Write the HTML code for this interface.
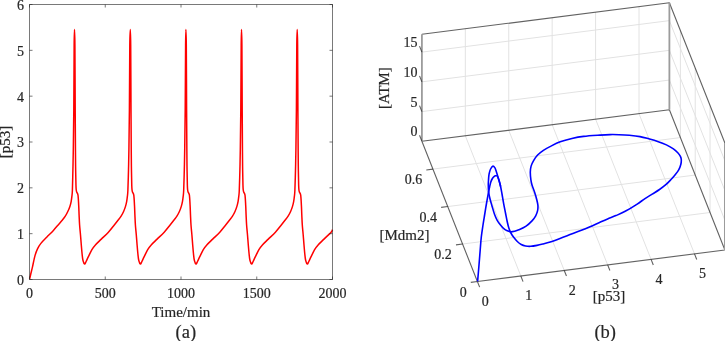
<!DOCTYPE html>
<html><head><meta charset="utf-8"><style>
html,body{margin:0;padding:0;background:#fff;}
body{width:725px;height:341px;overflow:hidden;}
svg{display:block;will-change:transform;}
text{font-family:"Liberation Serif",serif;font-size:15px;stroke:#262626;stroke-width:0.2px;}
.t{font-size:14px;}
</style></head><body>
<svg width="725" height="341" viewBox="0 0 725 341">
<path d="M29.60 279.20 C29.83 278.17 30.52 275.07 31.00 273.00 C31.48 270.93 31.83 269.70 32.50 266.80 C33.17 263.90 34.17 258.60 35.00 255.60 C35.83 252.60 36.52 250.83 37.50 248.80 C38.48 246.77 39.37 245.32 40.90 243.40 C42.43 241.48 44.62 239.47 46.70 237.30 C48.78 235.13 51.42 232.55 53.40 230.40 C55.38 228.25 57.13 226.08 58.60 224.40 C60.07 222.72 61.08 221.67 62.20 220.30 C63.32 218.93 64.37 217.67 65.30 216.20 C66.23 214.73 67.03 213.13 67.80 211.50 C68.57 209.87 69.33 208.10 69.90 206.40 C70.47 204.70 70.87 203.00 71.20 201.30 C71.53 199.60 71.70 198.08 71.90 196.20 C72.10 194.32 72.23 194.37 72.40 190.00 C72.57 185.63 72.75 176.67 72.90 170.00 C73.05 163.33 73.15 160.00 73.30 150.00 C73.45 140.00 73.66 127.50 73.80 110.00 C73.94 92.50 74.03 58.40 74.15 45.00 C74.27 31.60 74.38 29.60 74.50 29.60 C74.62 29.60 74.78 31.60 74.90 45.00 C75.02 58.40 75.11 92.50 75.20 110.00 C75.29 127.50 75.38 140.00 75.45 150.00 C75.53 160.00 75.57 164.17 75.65 170.00 C75.73 175.83 75.85 181.67 75.95 185.00 C76.05 188.33 76.12 188.83 76.25 190.00 C76.38 191.17 76.41 191.15 76.70 192.00 C76.99 192.85 77.67 192.87 78.00 195.10 C78.33 197.33 78.52 202.08 78.70 205.40 C78.88 208.72 78.95 211.73 79.10 215.00 C79.25 218.27 79.37 221.67 79.60 225.00 C79.83 228.33 80.22 231.67 80.50 235.00 C80.78 238.33 81.03 241.83 81.30 245.00 C81.57 248.17 81.82 251.42 82.10 254.00 C82.38 256.58 82.58 258.83 83.00 260.50 C83.42 262.17 84.08 263.83 84.60 264.00 C85.12 264.17 85.47 262.72 86.10 261.50 C86.73 260.28 87.43 258.68 88.40 256.70 C89.37 254.72 90.73 251.57 91.90 249.60 C93.07 247.63 93.83 246.65 95.40 244.90 C96.97 243.15 99.13 241.22 101.30 239.10 C103.47 236.98 106.23 234.55 108.40 232.20 C110.57 229.85 112.70 226.98 114.30 225.00 C115.90 223.02 116.87 221.77 118.00 220.30 C119.13 218.83 120.17 217.67 121.10 216.20 C122.03 214.73 122.87 213.13 123.60 211.50 C124.33 209.87 124.98 208.10 125.50 206.40 C126.02 204.70 126.38 203.00 126.70 201.30 C127.02 199.60 127.20 198.08 127.40 196.20 C127.60 194.32 127.72 194.37 127.90 190.00 C128.08 185.63 128.33 176.67 128.50 170.00 C128.67 163.33 128.75 160.00 128.90 150.00 C129.05 140.00 129.25 127.50 129.40 110.00 C129.55 92.50 129.65 58.40 129.80 45.00 C129.95 31.60 130.15 29.60 130.30 29.60 C130.45 29.60 130.58 31.60 130.70 45.00 C130.82 58.40 130.91 92.50 131.00 110.00 C131.09 127.50 131.18 140.00 131.25 150.00 C131.32 160.00 131.37 164.17 131.45 170.00 C131.53 175.83 131.65 181.67 131.75 185.00 C131.85 188.33 131.93 188.83 132.05 190.00 C132.18 191.17 132.21 191.15 132.50 192.00 C132.79 192.85 133.47 192.87 133.80 195.10 C134.13 197.33 134.32 202.08 134.50 205.40 C134.68 208.72 134.75 211.73 134.90 215.00 C135.05 218.27 135.17 221.67 135.40 225.00 C135.63 228.33 136.02 231.67 136.30 235.00 C136.58 238.33 136.83 241.83 137.10 245.00 C137.37 248.17 137.62 251.42 137.90 254.00 C138.18 256.58 138.38 258.83 138.80 260.50 C139.22 262.17 139.88 263.83 140.40 264.00 C140.92 264.17 141.27 262.72 141.90 261.50 C142.53 260.28 143.23 258.68 144.20 256.70 C145.17 254.72 146.53 251.57 147.70 249.60 C148.87 247.63 149.63 246.65 151.20 244.90 C152.77 243.15 154.93 241.22 157.10 239.10 C159.27 236.98 162.03 234.55 164.20 232.20 C166.37 229.85 168.50 226.98 170.10 225.00 C171.70 223.02 172.67 221.77 173.80 220.30 C174.93 218.83 175.97 217.67 176.90 216.20 C177.83 214.73 178.67 213.13 179.40 211.50 C180.13 209.87 180.78 208.10 181.30 206.40 C181.82 204.70 182.18 203.00 182.50 201.30 C182.82 199.60 183.00 198.08 183.20 196.20 C183.40 194.32 183.52 194.37 183.70 190.00 C183.88 185.63 184.13 176.67 184.30 170.00 C184.47 163.33 184.55 160.00 184.70 150.00 C184.85 140.00 185.05 127.50 185.20 110.00 C185.35 92.50 185.48 58.40 185.60 45.00 C185.72 31.60 185.78 29.60 185.90 29.60 C186.02 29.60 186.18 31.60 186.30 45.00 C186.42 58.40 186.51 92.50 186.60 110.00 C186.69 127.50 186.77 140.00 186.85 150.00 C186.93 160.00 186.97 164.17 187.05 170.00 C187.13 175.83 187.25 181.67 187.35 185.00 C187.45 188.33 187.53 188.83 187.65 190.00 C187.78 191.17 187.81 191.15 188.10 192.00 C188.39 192.85 189.07 192.87 189.40 195.10 C189.73 197.33 189.92 202.08 190.10 205.40 C190.28 208.72 190.35 211.73 190.50 215.00 C190.65 218.27 190.77 221.67 191.00 225.00 C191.23 228.33 191.62 231.67 191.90 235.00 C192.18 238.33 192.43 241.83 192.70 245.00 C192.97 248.17 193.22 251.42 193.50 254.00 C193.78 256.58 193.98 258.83 194.40 260.50 C194.82 262.17 195.48 263.83 196.00 264.00 C196.52 264.17 196.87 262.72 197.50 261.50 C198.13 260.28 198.83 258.68 199.80 256.70 C200.77 254.72 202.13 251.57 203.30 249.60 C204.47 247.63 205.23 246.65 206.80 244.90 C208.37 243.15 210.53 241.22 212.70 239.10 C214.87 236.98 217.63 234.55 219.80 232.20 C221.97 229.85 224.10 226.98 225.70 225.00 C227.30 223.02 228.27 221.77 229.40 220.30 C230.53 218.83 231.57 217.67 232.50 216.20 C233.43 214.73 234.27 213.13 235.00 211.50 C235.73 209.87 236.38 208.10 236.90 206.40 C237.42 204.70 237.78 203.00 238.10 201.30 C238.42 199.60 238.60 198.08 238.80 196.20 C239.00 194.32 239.12 194.37 239.30 190.00 C239.48 185.63 239.73 176.67 239.90 170.00 C240.07 163.33 240.15 160.00 240.30 150.00 C240.45 140.00 240.65 127.50 240.80 110.00 C240.95 92.50 241.08 58.40 241.20 45.00 C241.32 31.60 241.38 29.60 241.50 29.60 C241.62 29.60 241.78 31.60 241.90 45.00 C242.02 58.40 242.11 92.50 242.20 110.00 C242.29 127.50 242.38 140.00 242.45 150.00 C242.52 160.00 242.57 164.17 242.65 170.00 C242.73 175.83 242.85 181.67 242.95 185.00 C243.05 188.33 243.12 188.83 243.25 190.00 C243.38 191.17 243.41 191.15 243.70 192.00 C243.99 192.85 244.67 192.87 245.00 195.10 C245.33 197.33 245.52 202.08 245.70 205.40 C245.88 208.72 245.95 211.73 246.10 215.00 C246.25 218.27 246.37 221.67 246.60 225.00 C246.83 228.33 247.22 231.67 247.50 235.00 C247.78 238.33 248.03 241.83 248.30 245.00 C248.57 248.17 248.82 251.42 249.10 254.00 C249.38 256.58 249.58 258.83 250.00 260.50 C250.42 262.17 251.08 263.83 251.60 264.00 C252.12 264.17 252.47 262.72 253.10 261.50 C253.73 260.28 254.43 258.68 255.40 256.70 C256.37 254.72 257.73 251.57 258.90 249.60 C260.07 247.63 260.83 246.65 262.40 244.90 C263.97 243.15 266.13 241.22 268.30 239.10 C270.47 236.98 273.23 234.55 275.40 232.20 C277.57 229.85 279.70 226.98 281.30 225.00 C282.90 223.02 283.87 221.77 285.00 220.30 C286.13 218.83 287.17 217.67 288.10 216.20 C289.03 214.73 289.87 213.13 290.60 211.50 C291.33 209.87 291.98 208.10 292.50 206.40 C293.02 204.70 293.38 203.00 293.70 201.30 C294.02 199.60 294.20 198.08 294.40 196.20 C294.60 194.32 294.72 194.37 294.90 190.00 C295.08 185.63 295.33 176.67 295.50 170.00 C295.67 163.33 295.75 160.00 295.90 150.00 C296.05 140.00 296.25 127.50 296.40 110.00 C296.55 92.50 296.67 58.40 296.80 45.00 C296.93 31.60 297.07 29.60 297.20 29.60 C297.33 29.60 297.48 31.60 297.60 45.00 C297.72 58.40 297.81 92.50 297.90 110.00 C297.99 127.50 298.07 140.00 298.15 150.00 C298.22 160.00 298.27 164.17 298.35 170.00 C298.43 175.83 298.55 181.67 298.65 185.00 C298.75 188.33 298.82 188.83 298.95 190.00 C299.07 191.17 299.11 191.15 299.40 192.00 C299.69 192.85 300.37 192.87 300.70 195.10 C301.03 197.33 301.22 202.08 301.40 205.40 C301.58 208.72 301.65 211.73 301.80 215.00 C301.95 218.27 302.07 221.67 302.30 225.00 C302.53 228.33 302.92 231.67 303.20 235.00 C303.48 238.33 303.73 241.83 304.00 245.00 C304.27 248.17 304.52 251.42 304.80 254.00 C305.08 256.58 305.28 258.83 305.70 260.50 C306.12 262.17 306.78 263.83 307.30 264.00 C307.82 264.17 308.17 262.72 308.80 261.50 C309.43 260.28 310.13 258.68 311.10 256.70 C312.07 254.72 313.43 251.57 314.60 249.60 C315.77 247.63 316.53 246.65 318.10 244.90 C319.67 243.15 321.83 241.22 324.00 239.10 C326.17 236.98 329.68 233.78 331.10 232.20 C332.52 230.62 332.27 230.03 332.50 229.60" fill="none" stroke="#ff0000" stroke-width="1.5" stroke-linejoin="round"/>
<rect x="29.5" y="4.5" width="303.0" height="275.0" fill="none" stroke="#262626" stroke-width="1" opacity="0.62"/>
<path d="M29.50 279.50V276.50M29.50 4.50V7.50M105.25 279.50V276.50M105.25 4.50V7.50M181.00 279.50V276.50M181.00 4.50V7.50M256.75 279.50V276.50M256.75 4.50V7.50M332.50 279.50V276.50M332.50 4.50V7.50M29.50 279.50H32.50M332.50 279.50H329.50M29.50 233.67H32.50M332.50 233.67H329.50M29.50 187.83H32.50M332.50 187.83H329.50M29.50 142.00H32.50M332.50 142.00H329.50M29.50 96.17H32.50M332.50 96.17H329.50M29.50 50.33H32.50M332.50 50.33H329.50M29.50 4.50H32.50M332.50 4.50H329.50" stroke="#262626" stroke-width="1" opacity="0.62"/>
<g fill="#262626"><text class="t" x="29.50" y="298.3" text-anchor="middle">0</text><text class="t" x="105.25" y="298.3" text-anchor="middle">500</text><text class="t" x="181.00" y="298.3" text-anchor="middle">1000</text><text class="t" x="256.75" y="298.3" text-anchor="middle">1500</text><text class="t" x="332.50" y="298.3" text-anchor="middle">2000</text><text class="t" x="24" y="284.90" text-anchor="end">0</text><text class="t" x="24" y="239.07" text-anchor="end">1</text><text class="t" x="24" y="193.23" text-anchor="end">2</text><text class="t" x="24" y="147.40" text-anchor="end">3</text><text class="t" x="24" y="101.57" text-anchor="end">4</text><text class="t" x="24" y="55.73" text-anchor="end">5</text><text class="t" x="24" y="9.90" text-anchor="end">6</text><text x="181" y="316.6" text-anchor="middle">Time/min</text><text transform="translate(10.2 142.1) rotate(-90)" text-anchor="middle">[p53]</text><text x="185.8" y="338.0" text-anchor="middle" style="font-size:18.5px">(a)</text></g>
<path d="M520.82 275.97L465.32 135.77M564.24 270.44L508.74 130.24M607.66 264.91L552.16 124.71M651.08 259.38L595.58 119.18M694.50 253.85L639.00 113.65M462.57 244.03L710.06 212.51M447.74 206.57L695.23 175.05M432.90 169.10L680.40 137.58M465.32 135.77L465.32 28.76M508.74 130.24L508.74 23.23M552.16 124.71L552.16 17.70M595.58 119.18L595.58 12.17M639.00 113.65L639.00 6.64M421.90 111.58L669.39 80.06M421.90 81.85L669.39 50.33M421.90 52.13L669.39 20.61M710.06 212.51L710.06 105.50M695.23 175.05L695.23 68.04M680.40 137.58L680.40 30.57M724.89 220.25L669.39 80.06M724.89 190.53L669.39 50.33M724.89 160.80L669.39 20.61" stroke="#e2e2e2" stroke-width="1" fill="none"/>
<path d="M477.40 281.50L724.89 249.98M477.40 281.50L421.90 141.30M421.90 141.30L669.39 109.78M724.89 249.98L669.39 109.78M421.90 34.29L669.39 2.77M669.39 2.77L724.89 142.97" stroke="#262626" stroke-width="1.1" fill="none" opacity="0.72"/>
<path d="M421.90 141.30L421.90 34.29M669.39 109.78L669.39 2.77M724.89 249.98L724.89 142.97" stroke="#9c9c9c" stroke-width="1.8" fill="none"/>
<path d="M477.40 281.50L479.62 287.12M520.82 275.97L523.04 281.59M564.24 270.44L566.46 276.06M607.66 264.91L609.88 270.53M651.08 259.38L653.30 265.00M694.50 253.85L696.72 259.47M477.40 281.50L470.80 282.34M462.57 244.03L455.97 244.87M447.74 206.57L441.14 207.41M432.90 169.10L426.30 169.94M421.90 141.30L419.53 135.31M421.90 111.58L419.53 105.58M421.90 81.85L419.53 75.86M421.90 52.13L419.53 46.13" stroke="#262626" stroke-width="1.1" fill="none" opacity="0.72"/>
<path d="M492.70 166.20 C493.40 165.97 494.22 166.77 494.80 167.60 C495.38 168.43 495.78 170.02 496.20 171.20 C496.62 172.38 496.95 173.53 497.30 174.70 C497.65 175.87 497.95 177.03 498.30 178.20 C498.65 179.37 499.02 180.32 499.40 181.70 C499.78 183.08 500.17 184.45 500.60 186.50 C501.03 188.55 501.48 191.10 502.00 194.00 C502.52 196.90 503.12 200.73 503.70 203.90 C504.28 207.07 504.90 209.98 505.50 213.00 C506.10 216.02 506.72 219.40 507.30 222.00 C507.88 224.60 508.40 226.77 509.00 228.60 C509.60 230.43 510.15 231.60 510.90 233.00 C511.65 234.40 512.43 235.58 513.50 237.00 C514.57 238.42 516.02 240.25 517.30 241.50 C518.58 242.75 519.82 243.75 521.20 244.50 C522.58 245.25 524.00 245.70 525.60 246.00 C527.20 246.30 528.90 246.40 530.80 246.30 C532.70 246.20 534.93 245.80 537.00 245.40 C539.07 245.00 541.00 244.48 543.20 243.90 C545.40 243.32 547.40 242.82 550.20 241.90 C553.00 240.98 556.70 239.62 560.00 238.40 C563.30 237.18 566.67 235.87 570.00 234.60 C573.33 233.33 576.67 232.12 580.00 230.80 C583.33 229.48 586.67 228.13 590.00 226.70 C593.33 225.27 597.07 223.50 600.00 222.20 C602.93 220.90 604.93 220.00 607.60 218.90 C610.27 217.80 613.07 216.87 616.00 215.60 C618.93 214.33 621.73 213.18 625.20 211.30 C628.67 209.42 633.50 206.42 636.80 204.30 C640.10 202.18 642.37 200.33 645.00 198.60 C647.63 196.87 650.18 195.42 652.60 193.90 C655.02 192.38 657.30 191.03 659.50 189.50 C661.70 187.97 663.88 186.37 665.80 184.70 C667.72 183.03 669.47 181.12 671.00 179.50 C672.53 177.88 673.72 176.60 675.00 175.00 C676.28 173.40 677.73 171.65 678.70 169.90 C679.67 168.15 680.37 166.18 680.80 164.50 C681.23 162.82 681.37 161.15 681.30 159.80 C681.23 158.45 680.98 157.57 680.40 156.40 C679.82 155.23 678.97 154.05 677.80 152.80 C676.63 151.55 675.30 150.22 673.40 148.90 C671.50 147.58 669.03 146.15 666.40 144.90 C663.77 143.65 660.53 142.42 657.60 141.40 C654.67 140.38 651.73 139.60 648.80 138.80 C645.87 138.00 643.25 137.18 640.00 136.60 C636.75 136.02 632.80 135.62 629.30 135.30 C625.80 134.98 622.22 134.82 619.00 134.70 C615.78 134.58 613.17 134.53 610.00 134.60 C606.83 134.67 604.40 134.80 600.00 135.10 C595.60 135.40 588.28 135.83 583.60 136.40 C578.92 136.97 575.80 137.60 571.90 138.50 C568.00 139.40 563.85 140.45 560.20 141.80 C556.55 143.15 552.80 145.18 550.00 146.60 C547.20 148.02 545.47 148.90 543.40 150.30 C541.33 151.70 539.23 153.28 537.60 155.00 C535.97 156.72 534.68 158.75 533.60 160.60 C532.52 162.45 531.65 164.17 531.10 166.10 C530.55 168.03 530.33 169.92 530.30 172.20 C530.27 174.48 530.62 177.67 530.90 179.80 C531.18 181.93 531.38 182.92 532.00 185.00 C532.62 187.08 533.80 189.85 534.60 192.30 C535.40 194.75 536.25 197.50 536.80 199.70 C537.35 201.90 537.77 203.67 537.90 205.50 C538.03 207.33 537.97 208.98 537.60 210.70 C537.23 212.42 536.63 214.10 535.70 215.80 C534.77 217.50 533.60 219.18 532.00 220.90 C530.40 222.62 528.30 224.62 526.10 226.10 C523.90 227.58 520.73 228.95 518.80 229.80 C516.87 230.65 515.83 230.88 514.50 231.20 C513.17 231.52 512.00 231.77 510.80 231.70 C509.60 231.63 508.47 231.32 507.30 230.80 C506.13 230.28 504.97 229.62 503.80 228.60 C502.63 227.58 501.40 226.08 500.30 224.70 C499.20 223.32 498.15 222.00 497.20 220.30 C496.25 218.60 495.47 216.88 494.60 214.50 C493.73 212.12 492.78 208.67 492.00 206.00 C491.22 203.33 490.47 200.92 489.90 198.50 C489.33 196.08 488.87 193.83 488.60 191.50 C488.33 189.17 488.32 186.37 488.30 184.50 C488.28 182.63 488.42 181.70 488.50 180.30 C488.58 178.90 488.65 177.38 488.80 176.10 C488.95 174.82 489.10 173.78 489.40 172.60 C489.70 171.42 490.05 170.07 490.60 169.00 C491.15 167.93 492.00 166.43 492.70 166.20Z" stroke="#0000ff" stroke-width="1.6" fill="none" stroke-linejoin="round"/>
<path d="M477.60 281.40 C477.83 278.67 478.57 270.23 479.00 265.00 C479.43 259.77 479.82 254.67 480.20 250.00 C480.58 245.33 480.83 241.17 481.30 237.00 C481.77 232.83 482.45 228.67 483.00 225.00 C483.55 221.33 484.03 218.50 484.60 215.00 C485.17 211.50 485.78 207.62 486.40 204.00 C487.02 200.38 487.77 196.13 488.30 193.30 C488.83 190.47 489.18 188.88 489.60 187.00 C490.02 185.12 490.33 183.42 490.80 182.00 C491.27 180.58 491.87 179.40 492.40 178.50 C492.93 177.60 493.47 177.05 494.00 176.60 C494.53 176.15 495.07 175.90 495.60 175.80 C496.13 175.70 496.75 175.60 497.20 176.00 C497.65 176.40 497.93 177.25 498.30 178.20 C498.67 179.15 499.02 180.32 499.40 181.70 C499.78 183.08 500.40 185.70 500.60 186.50" stroke="#0000ff" stroke-width="1.6" fill="none" stroke-linejoin="round"/>
<g fill="#262626"><text class="t" x="417.40" y="136.40" text-anchor="end">0</text><text class="t" x="417.40" y="106.68" text-anchor="end">5</text><text class="t" x="417.40" y="76.95" text-anchor="end">10</text><text class="t" x="417.40" y="47.23" text-anchor="end">15</text><text class="t" x="466.70" y="296.50" text-anchor="end">0</text><text class="t" x="451.87" y="259.03" text-anchor="end">0.2</text><text class="t" x="437.04" y="221.57" text-anchor="end">0.4</text><text class="t" x="422.20" y="184.10" text-anchor="end">0.6</text><text class="t" x="485.30" y="305.90" text-anchor="middle">0</text><text class="t" x="528.72" y="300.37" text-anchor="middle">1</text><text class="t" x="572.14" y="294.84" text-anchor="middle">2</text><text class="t" x="615.56" y="289.31" text-anchor="middle">3</text><text class="t" x="658.98" y="283.78" text-anchor="middle">4</text><text class="t" x="702.40" y="278.25" text-anchor="middle">5</text><text x="404.5" y="240.1" text-anchor="middle">[Mdm2]</text><text x="608.9" y="301.4" text-anchor="middle">[p53]</text><text transform="translate(389.4 88.2) rotate(-90)" text-anchor="middle">[ATM]</text><text x="605.2" y="337.9" text-anchor="middle" style="font-size:18.5px">(b)</text></g>
</svg>
</body></html>
